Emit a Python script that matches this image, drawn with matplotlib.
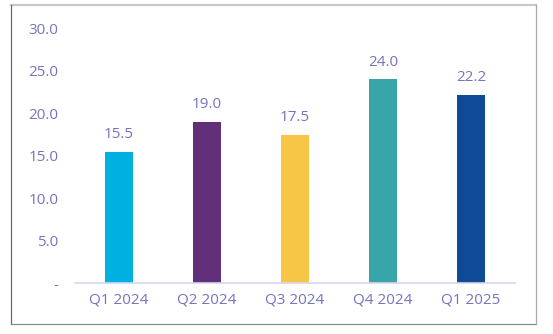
import matplotlib
matplotlib.use("Agg")
import matplotlib.pyplot as plt
from matplotlib.lines import Line2D

# data
quarters = ["Q1 2024", "Q2 2024", "Q3 2024", "Q4 2024", "Q1 2025"]
values = [15.5, 19.0, 17.5, 24.0, 22.2]
bar_colors = ["#00b0e0", "#612f78", "#f8c646", "#38a6a8", "#0e4a96"]
y_ticks = [0, 5, 10, 15, 20, 25, 30]
y_tick_labels = ["-", "5.0", "10.0", "15.0", "20.0", "25.0", "30.0"]

text_color = "#7474c0"
plt.rcParams["font.family"] = ["Open Sans", "DejaVu Sans"]


def main():
    fig = plt.figure(figsize=(5.53, 3.34), dpi=100)
    fig.patch.set_facecolor("white")

    # outer frame
    fig.add_artist(Line2D([11 / 553, 536 / 553], [1 - 5 / 334, 1 - 5 / 334],
                          transform=fig.transFigure, color="#c8c8c8", lw=1.6))
    fig.add_artist(Line2D([11 / 553, 11 / 553], [1 - 5 / 334, 1 - 324 / 334],
                          transform=fig.transFigure, color="#6a6a6a", lw=0.9))
    fig.add_artist(Line2D([11 / 553, 536 / 553], [1 - 324 / 334, 1 - 324 / 334],
                          transform=fig.transFigure, color="#8a8a8a", lw=0.9))
    fig.add_artist(Line2D([536 / 553, 536 / 553], [1 - 5 / 334, 1 - 324 / 334],
                          transform=fig.transFigure, color="#a8a8a8", lw=0.9))

    ax = fig.add_axes([75 / 553, 51 / 334, 440 / 553, 254.4 / 334])
    ax.set_facecolor("none")

    x = range(len(quarters))
    bars = ax.bar(x, values, width=0.32, color=bar_colors, zorder=2)
    for b, v in zip(bars, values):
        ax.annotate(f"{v:.1f}", (b.get_x() + b.get_width() / 2, v),
                    xytext=(0, 7), textcoords="offset points",
                    ha="center", va="bottom", color=text_color, fontsize=11)

    ax.set_xlim(-0.5, len(quarters) - 0.5)
    ax.set_ylim(0, 30)
    ax.set_xticks(list(x))
    ax.set_xticklabels(quarters)
    ax.set_yticks(y_ticks)
    ax.set_yticklabels(y_tick_labels)
    ax.tick_params(axis="both", length=0, colors=text_color, labelsize=11)
    ax.tick_params(axis="y", pad=12)
    ax.tick_params(axis="x", pad=7)

    for side in ["top", "right", "left"]:
        ax.spines[side].set_visible(False)
    ax.spines["bottom"].set_color("#d6d6ee")
    ax.spines["bottom"].set_linewidth(1.2)

    fig.savefig("out.png", dpi=100)


if __name__ == "__main__":
    main()
